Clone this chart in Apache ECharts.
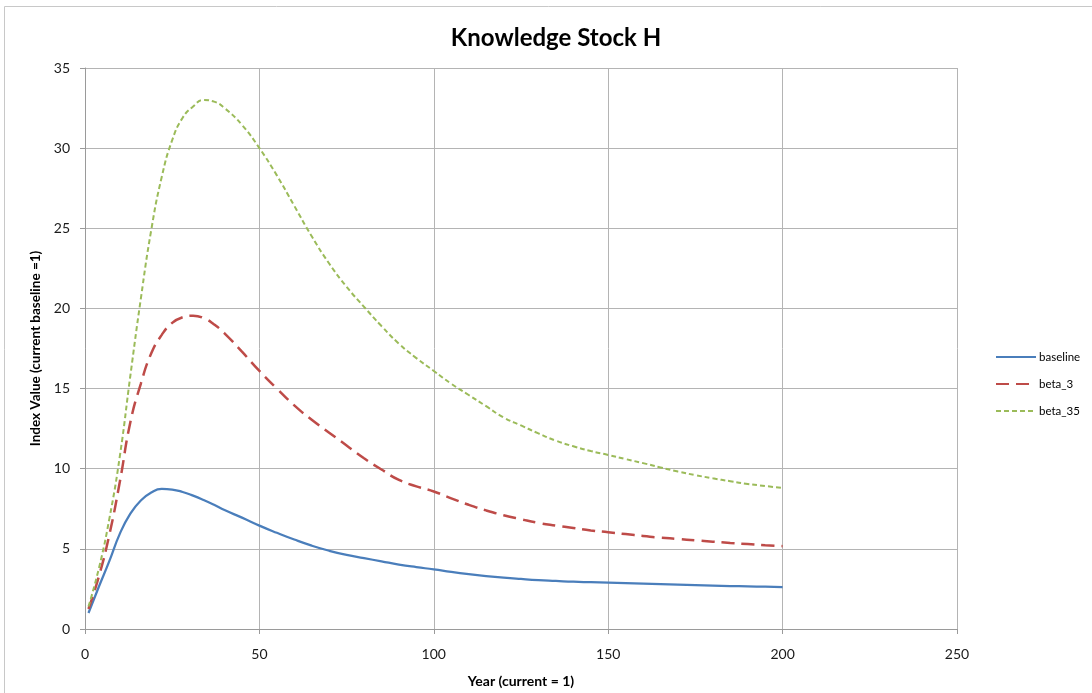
<!DOCTYPE html>
<html>
<head>
<meta charset="utf-8">
<script src="https://cdn.jsdelivr.net/npm/echarts@6/dist/echarts.min.js"></script>
<style>
html,body{margin:0;padding:0;background:#fff;}
#chart{width:1092px;height:693px;}
</style>
</head>
<body>
<div id="chart"></div>
<script>
const years = [1,4,7,10,13,16,19,22,25,28,31,34,37,40,45,50,55,60,65,70,75,80,85,90,95,100,105,110,115,120,125,130,135,140,145,150,155,160,165,170,175,180,185,190,195,200];
const baseline = [1.0,2.65,4.25,5.95,7.2,8.02,8.52,8.74,8.7,8.55,8.32,8.05,7.75,7.42,6.95,6.45,6.0,5.58,5.2,4.88,4.62,4.42,4.22,4.02,3.86,3.72,3.56,3.42,3.3,3.2,3.12,3.05,3.0,2.95,2.92,2.89,2.86,2.83,2.8,2.77,2.74,2.71,2.68,2.66,2.64,2.62];
const beta_3 = [1.25,3.3,5.9,9.2,12.9,15.3,17.2,18.35,19.1,19.45,19.55,19.4,19.0,18.45,17.3,16.1,15.0,13.95,13.05,12.25,11.45,10.65,9.95,9.3,8.9,8.58,8.15,7.75,7.4,7.1,6.85,6.62,6.45,6.3,6.15,6.04,5.92,5.8,5.7,5.62,5.53,5.45,5.37,5.3,5.23,5.17];
const beta_35 = [1.4,3.8,6.9,10.8,15.8,20.6,24.9,28.2,30.5,31.9,32.6,33.0,32.9,32.5,31.45,30.0,28.3,26.4,24.5,22.8,21.35,20.1,18.9,17.8,16.9,16.1,15.3,14.6,13.9,13.2,12.7,12.2,11.75,11.4,11.1,10.86,10.6,10.35,10.08,9.82,9.6,9.4,9.22,9.05,8.92,8.8];
const seriesNames = ['baseline','beta_3','beta_35'];
const title = 'Knowledge Stock H';
const xName = 'Year (current = 1)';
const yName = 'Index Value (current baseline =1)';

const pair = arr => years.map((y,i)=>[y,arr[i]]);
const font = 'Lato, "Open Sans", sans-serif';
const chart = echarts.init(document.getElementById('chart'));
chart.setOption({
  backgroundColor:'#fff',
  animation:false,
  textStyle:{fontFamily:font},
  title:{text:title,left:551,textAlign:'center',top:21,textStyle:{fontFamily:font,fontSize:24,fontWeight:'bold',color:'#000'}},
  legend:{
    orient:'vertical', left:990, top:346, itemWidth:40, itemHeight:10, itemGap:15,
    textStyle:{fontFamily:font,fontSize:11.5,color:'#000',padding:[0,0,0,-2]},
    itemStyle:{color:'transparent',borderColor:'transparent',borderWidth:0},
    data:seriesNames
  },
  grid:{left:85,right:135,top:68,bottom:61,containLabel:false},
  xAxis:{
    type:'value',min:0,max:250,interval:50,
    name:xName,nameLocation:'middle',nameGap:45,
    nameTextStyle:{fontFamily:font,fontSize:14,fontWeight:'bold',color:'#000'},
    axisLine:{lineStyle:{color:'#9a9a9a'}},
    axisTick:{show:true,length:5,lineStyle:{color:'#9a9a9a'}},
    axisLabel:{fontSize:14,color:'#1a1a1a',margin:18},
    splitLine:{show:true,lineStyle:{color:'#b4b4b4',width:1}}
  },
  yAxis:{
    type:'value',min:0,max:35,interval:5,
    name:yName,nameLocation:'middle',nameGap:41,nameRotate:90,
    nameTextStyle:{fontFamily:font,fontSize:13.5,fontWeight:'bold',color:'#000'},
    axisLine:{show:true,lineStyle:{color:'#9a9a9a'}},
    axisTick:{show:true,length:5,lineStyle:{color:'#9a9a9a'}},
    axisLabel:{fontSize:14,color:'#1a1a1a',margin:15},
    splitLine:{show:true,lineStyle:{color:'#b4b4b4',width:1}}
  },
  graphic:[
    {type:'line',shape:{x1:4.5,y1:6.5,x2:1092,y2:6.5},style:{stroke:'#c8c8c8',lineWidth:1}},
    {type:'line',shape:{x1:4.5,y1:6.5,x2:4.5,y2:693},style:{stroke:'#c8c8c8',lineWidth:1}}
  ],
  series:[
    {name:seriesNames[0],type:'line',data:pair(baseline),smooth:true,symbol:'none',
     lineStyle:{color:'#4A7EBB',width:2.25},itemStyle:{color:'#4A7EBB'}},
    {name:seriesNames[1],type:'line',data:pair(beta_3),smooth:true,symbol:'none',
     lineStyle:{color:'#BE4B48',width:2.5,type:[13,7]},itemStyle:{color:'#BE4B48'}},
    {name:seriesNames[2],type:'line',data:pair(beta_35),smooth:true,symbol:'none',
     lineStyle:{color:'#9BBB59',width:2,type:[5,3]},itemStyle:{color:'#9BBB59'}}
  ]
});
</script>
</body>
</html>
